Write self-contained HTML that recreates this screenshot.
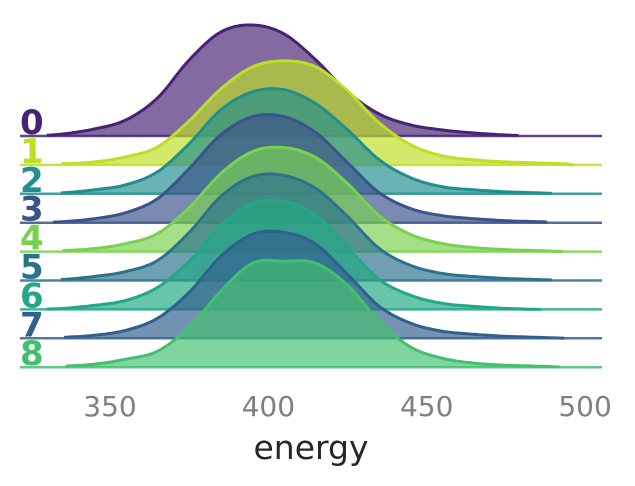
<!DOCTYPE html>
<html><head><meta charset="utf-8"><style>
html,body{margin:0;padding:0;background:#fff;}
svg{display:block;font-family:"DejaVu Sans","Liberation Sans",sans-serif;}
</style></head><body>
<svg id="chart" width="635" height="486" viewBox="0 0 635 486"></svg>
<script>
const categories = ["0","1","2","3","4","5","6","7","8"];
const colors = ["#482374","#bddf26","#21908d","#3b528b","#7ad151","#2c728e","#22a884","#31608e","#44bf70"];
const energyGrid = [325,335,345,355,365,375,385,395,405,415,425,435,445,455,465,475,485,495];
const density0 = [0,2,7,16,38,76,104,111,102,76,44,22,11,6,3,1,0,0];
const density1 = [0,1,3,8,18,44,76,98,104,98,74,42,20,9,5,3,2,1];
const density2 = [0,1,4,9,22,50,84,102,104,90,64,34,16,7,4,2,1,0];
const density3 = [0,1,4,10,24,54,88,106,106,90,60,30,14,7,4,2,1,0];
const density4 = [0,1,3,8,18,44,78,100,104,94,68,36,17,8,4,2,1,0];
const density5 = [0,1,4,9,20,48,84,104,105,92,64,32,15,7,4,2,1,0];
const density6 = [0,1,4,9,22,48,84,106,108,94,62,30,14,6,3,1,0,0];
const density7 = [0,1,3,8,20,46,82,104,106,94,64,32,15,7,4,2,1,0];
const density8 = [0,1,3,8,16,40,76,104,106,104,82,46,20,9,4,2,1,0];
const densities = [density0,density1,density2,density3,density4,density5,density6,density7,density8];
const starts = [330,334.5,334.5,332,335,334.5,330,335.5,336];
const ends = [479,497,490,488,493,490,486,494,492];
const xTicks = [350,400,450,500];

const svg = document.getElementById('chart');
const NS = 'http://www.w3.org/2000/svg';
const x = v => 110 + (v - 350) * 3.167;
const baseY = i => 136 + i * 28.9;
const hScale = 1.0;

function interp(arr, v){
  for (let k=0;k<energyGrid.length-1;k++){
    if (v>=energyGrid[k] && v<=energyGrid[k+1]){
      const t=(v-energyGrid[k])/(energyGrid[k+1]-energyGrid[k]);
      const p0=arr[Math.max(k-1,0)],p1=arr[k],p2=arr[k+1],p3=arr[Math.min(k+2,arr.length-1)];
      const t2=t*t,t3=t2*t;
      return Math.max(0,0.5*((2*p1)+(-p0+p2)*t+(2*p0-5*p1+4*p2-p3)*t2+(-p0+3*p1-3*p2+p3)*t3));
    }
  }
  return 0;
}

categories.forEach((cat,i)=>{
  const g=document.createElementNS(NS,'g');
  
  
  const by=baseY(i);
  let pts=[];
  for(let v=starts[i]; v<=ends[i]+0.01; v+=1){
    pts.push([x(v), by - interp(densities[i], v)*hScale]);
  }
  const lineD='M'+pts.map(p=>p[0].toFixed(1)+','+p[1].toFixed(1)).join('L');
  const fill=document.createElementNS(NS,'path');
  fill.setAttribute('d', lineD+'L'+x(ends[i]).toFixed(1)+','+by+'L'+x(starts[i]).toFixed(1)+','+by+'Z');
  fill.setAttribute('fill',colors[i]);
  fill.setAttribute('fill-opacity','0.68');
  
  
  g.appendChild(fill);
  const base=document.createElementNS(NS,'line');
  base.setAttribute('x1',20);base.setAttribute('x2',602);
  base.setAttribute('y1',by);base.setAttribute('y2',by);
  base.setAttribute('stroke',colors[i]);base.setAttribute('stroke-width','2.5');
  base.setAttribute('stroke-opacity','0.85');
  
  
  g.appendChild(base);
  const line=document.createElementNS(NS,'path');
  line.setAttribute('d',lineD);
  line.setAttribute('fill','none');
  line.setAttribute('stroke',colors[i]);
  line.setAttribute('stroke-width','3');
  line.setAttribute('stroke-linejoin','round');
  
  
  g.appendChild(line);
  const lab=document.createElementNS(NS,'text');
  lab.setAttribute('x',20);lab.setAttribute('y',by-2);
  lab.setAttribute('fill',colors[i]);
  lab.setAttribute('font-size','34');
  lab.setAttribute('font-weight','bold');
  lab.textContent=cat;
  
  
  g.appendChild(lab);
  svg.appendChild(g);
});

xTicks.forEach(t=>{
  const tx=document.createElementNS(NS,'text');
  tx.setAttribute('x',x(t));tx.setAttribute('y',416);
  tx.setAttribute('text-anchor','middle');
  tx.setAttribute('font-size','28');
  tx.setAttribute('fill','#808080');
  tx.textContent=t;
  
  
  svg.appendChild(tx);
});
const xt=document.createElementNS(NS,'text');
xt.setAttribute('x',311);xt.setAttribute('y',459);
xt.setAttribute('text-anchor','middle');
xt.setAttribute('font-size','33');
xt.setAttribute('fill','#262626');
xt.textContent='energy';


svg.appendChild(xt);
</script>
</body></html>
